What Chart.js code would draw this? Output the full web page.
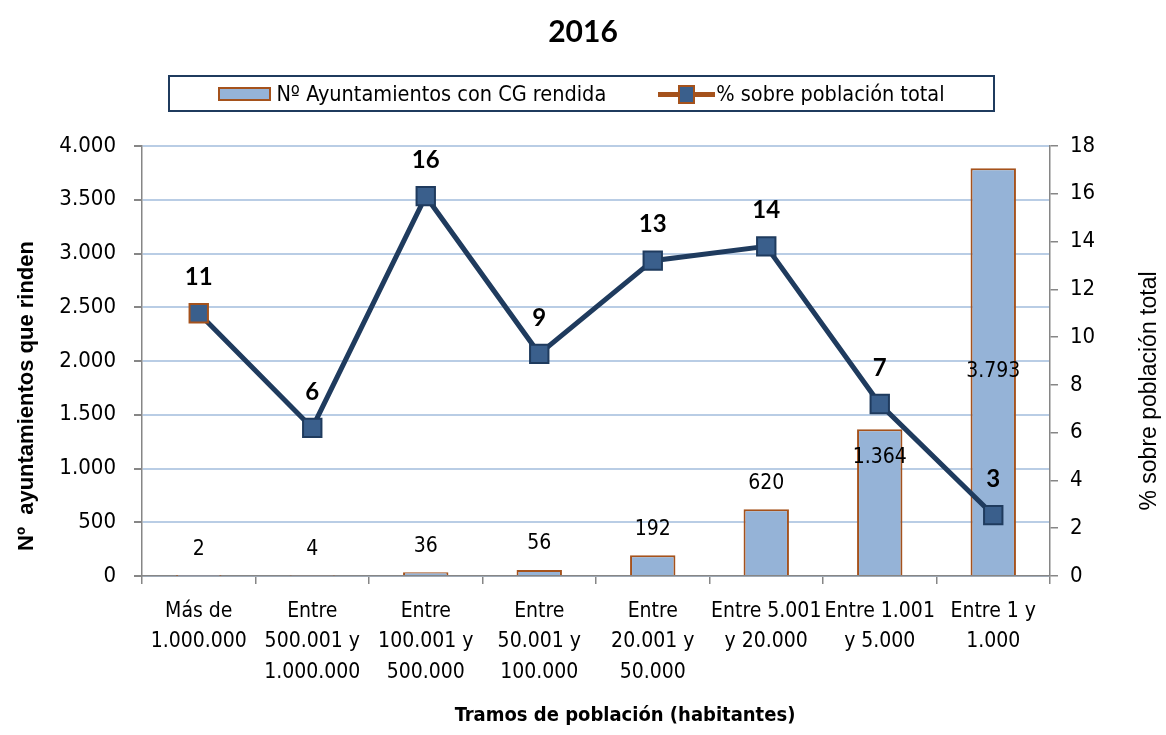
<!DOCTYPE html>
<html>
<head>
<meta charset="utf-8">
<script src="https://cdn.jsdelivr.net/npm/chart.js@4.4.1/dist/chart.umd.min.js"></script>
<style>
  body { margin: 0; background: #fff; }
  #wrap { position: relative; width: 1166px; height: 735px; }
  #title {
    position: absolute; left: 0; top: 12px; width: 1166px; text-align: center;
    font: bold 30px Lato, "Open Sans", sans-serif; color: #000;
  }
  #legend {
    position: absolute; left: 168px; top: 75px; width: 823px; height: 33px;
    border: 2px solid #1f3b5e; display: flex; align-items: center; justify-content: center;
    font: 21.5px "DejaVu Sans Condensed", sans-serif; color: #000;
  }
  .leg-item { display: flex; align-items: center; }
  .leg-bar { width: 49px; height: 10px; background: #95b3d7; border: 2px solid #a5521c; margin-right: 5px; }
  .leg-line { position: relative; width: 57px; height: 20px; margin-right: 1px; margin-left: 52px; }
  .leg-line::before { content: ""; position: absolute; left: 0; right: 0; top: 8px; height: 5px; background: #a5521c; }
  .leg-line::after { content: ""; position: absolute; left: 20px; top: 1px; width: 13px; height: 15px; background: #3a5f8c; border: 2px solid #a5521c; }
</style>
</head>
<body>
<div id="wrap">
  <canvas id="c" width="1166" height="735"></canvas>
  <div id="title">2016</div>
  <div id="legend">
    <div class="leg-item"><span class="leg-bar"></span>Nº Ayuntamientos con CG rendida</div>
    <div class="leg-item"><span class="leg-line"></span>% sobre población total</div>
  </div>
</div>
<script>
const CATEGORIES = [
  ["Más de", "1.000.000"],
  ["Entre", "500.001 y", "1.000.000"],
  ["Entre", "100.001 y", "500.000"],
  ["Entre", "50.001 y", "100.000"],
  ["Entre", "20.001 y", "50.000"],
  ["Entre 5.001", "y 20.000"],
  ["Entre 1.001", "y 5.000"],
  ["Entre 1 y", "1.000"],
];
const AYUNTAMIENTOS = [2, 4, 36, 56, 192, 620, 1364, 3793];
const PCT_POBLACION = [11.0, 6.2, 15.9, 9.3, 13.2, 13.8, 7.2, 2.55];
const LEFT_TICKS = [0, 500, 1000, 1500, 2000, 2500, 3000, 3500, 4000];
const RIGHT_TICKS = [0, 2, 4, 6, 8, 10, 12, 14, 16, 18];

const NARROW = '"DejaVu Sans Condensed", "Liberation Sans Narrow", sans-serif';
const AXIS_GREY = "#868686";

function fmt(v) {
  return String(Math.round(v)).replace(/\B(?=(\d{3})+(?!\d))/g, ".");
}

// where each bar label sits (Excel moved the two tall ones inside)
const BAR_LABEL_POS = ["out", "out", "out", "out", "out", "out", "inEnd", "center"];

const valueLabels = {
  id: "valueLabels",
  afterDatasetsDraw(chart) {
    const ctx = chart.ctx;
    ctx.save();
    ctx.textAlign = "center";
    ctx.textBaseline = "middle";
    ctx.fillStyle = "#000";

    ctx.font = "21px " + NARROW;
    chart.getDatasetMeta(0).data.forEach((el, i) => {
      let y = el.y - 26;
      if (BAR_LABEL_POS[i] === "inEnd") y = el.y + 28;
      if (BAR_LABEL_POS[i] === "center") y = (el.y + el.base) / 2;
      ctx.fillText(fmt(AYUNTAMIENTOS[i]), el.x, y);
    });

    ctx.font = "bold 24px Lato, sans-serif";
    chart.getDatasetMeta(1).data.forEach((el, i) => {
      ctx.fillText(Math.round(PCT_POBLACION[i]), el.x, el.y - 36);
    });
    ctx.restore();
  },
};

const axisTitles = {
  id: "axisTitles",
  afterDraw(chart) {
    const ctx = chart.ctx;
    ctx.save();
    ctx.fillStyle = "#000";
    ctx.textAlign = "center";
    ctx.textBaseline = "middle";
    ctx.font = "bold 20px " + NARROW;
    ctx.fillText("Tramos de población (habitantes)", 625, 716);

    ctx.translate(27, 396);
    ctx.rotate(-Math.PI / 2);
    ctx.font = 'bold 22px "Liberation Sans", Arial, sans-serif';
    ctx.fillText("Nº  ayuntamientos que rinden", 0, 0);
    ctx.restore();

    ctx.save();
    ctx.fillStyle = "#000";
    ctx.textAlign = "center";
    ctx.textBaseline = "middle";
    ctx.translate(1150, 391);
    ctx.rotate(-Math.PI / 2);
    ctx.font = '23px "Liberation Sans", Arial, sans-serif';
    ctx.fillText("% sobre población total", 0, 0);
    ctx.restore();
  },
};

new Chart(document.getElementById("c").getContext("2d"), {
  data: {
    labels: CATEGORIES,
    datasets: [
      {
        type: "bar",
        label: "Nº Ayuntamientos con CG rendida",
        data: AYUNTAMIENTOS,
        yAxisID: "y",
        backgroundColor: "#95b3d7",
        borderColor: "#a5521c",
        borderWidth: 2,
        barPercentage: 0.4,
        categoryPercentage: 1,
        order: 1,
      },
      {
        type: "line",
        label: "% sobre población total",
        data: PCT_POBLACION,
        yAxisID: "y1",
        borderColor: "#1f3b5e",
        borderWidth: 5,
        pointStyle: "rect",
        pointRadius: 13,
        pointBackgroundColor: "#3a5f8c",
        pointBorderColor: PCT_POBLACION.map((_, i) => (i === 0 ? "#a5521c" : "#1f3b5e")),
        pointBorderWidth: 2,
        tension: 0,
        order: 0,
      },
    ],
  },
  options: {
    responsive: false,
    animation: false,
    layout: { padding: { top: 146, left: 0, right: 0, bottom: 0 } },
    plugins: {
      legend: { display: false },
      title: { display: false },
      tooltip: { enabled: false },
    },
    scales: {
      x: {
        offset: true,
        grid: { offset: true, drawOnChartArea: false, tickLength: 8, tickColor: AXIS_GREY, lineWidth: 1.5 },
        border: { color: AXIS_GREY, width: 1.5 },
        ticks: { font: { family: NARROW, size: 21, lineHeight: 1.45 }, color: "#000", maxRotation: 0, autoSkip: false, padding: 12 },
        afterFit: (s) => { s.height = 159; },
      },
      y: {
        position: "left",
        min: 0,
        max: 4000,
        afterBuildTicks: (s) => { s.ticks = LEFT_TICKS.map((v) => ({ value: v })); },
        grid: { color: "#b9cde5", lineWidth: 2, tickLength: 8, tickColor: AXIS_GREY },
        border: { color: AXIS_GREY, width: 1.5 },
        ticks: { font: { family: NARROW, size: 22 }, color: "#000", padding: 18, callback: (v) => fmt(v) },
        afterFit: (s) => { s.width = 142; },
      },
      y1: {
        position: "right",
        min: 0,
        max: 18,
        afterBuildTicks: (s) => { s.ticks = RIGHT_TICKS.map((v) => ({ value: v })); },
        grid: { drawOnChartArea: false, tickLength: 8, tickColor: AXIS_GREY, lineWidth: 1.5 },
        border: { color: AXIS_GREY, width: 1.5 },
        ticks: { font: { family: NARROW, size: 22 }, color: "#000", padding: 12 },
        afterFit: (s) => { s.width = 116; },
      },
    },
  },
  plugins: [valueLabels, axisTitles],
});
</script>
</body>
</html>
